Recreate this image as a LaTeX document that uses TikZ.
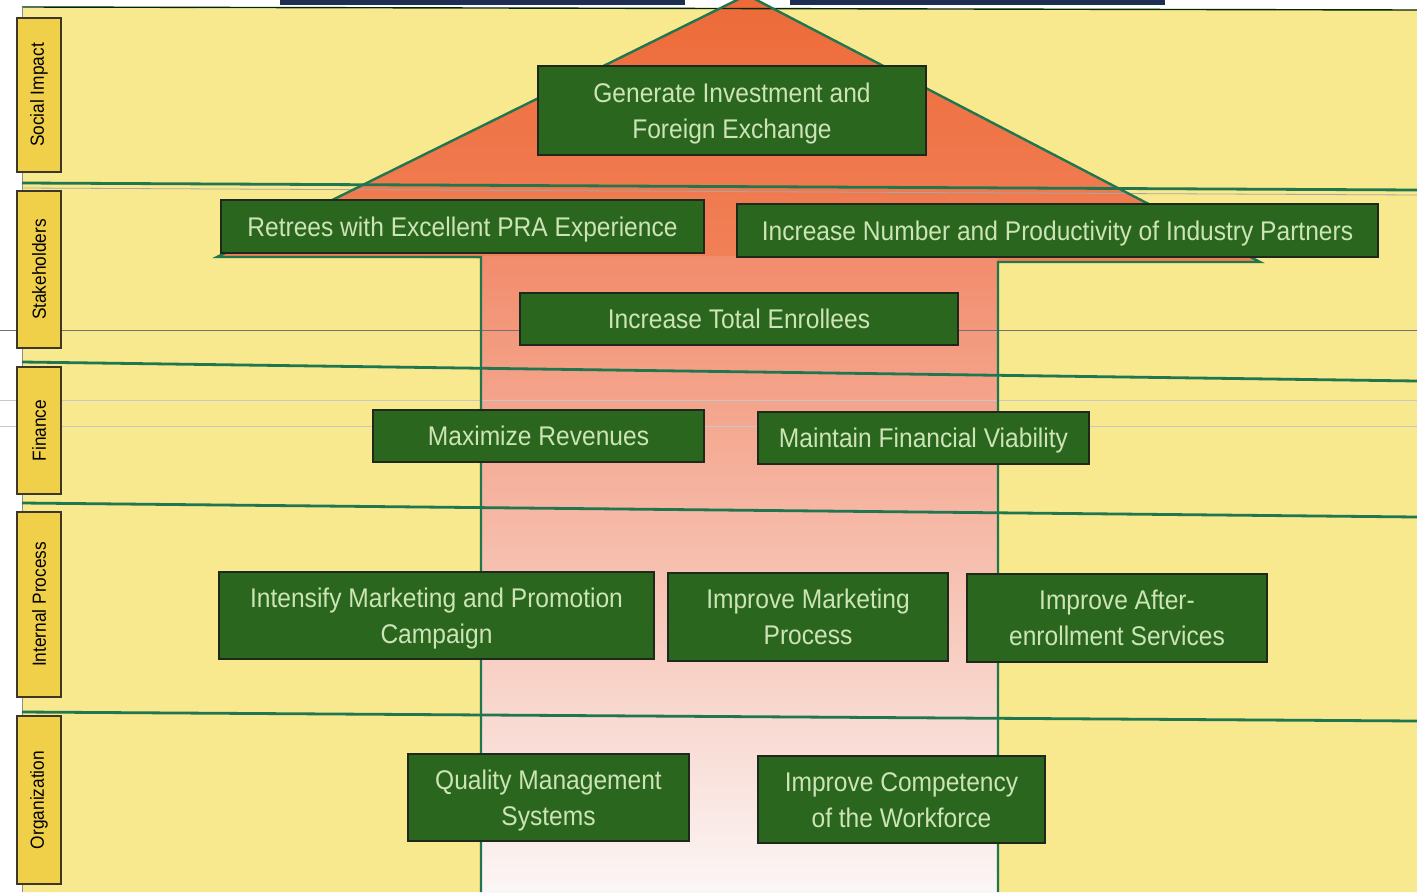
\documentclass[tikz,border=0pt]{standalone}
\usepackage{fontspec}
\setmainfont{Liberation Sans}
\newfontfamily\narrowsans{Liberation Sans}[FakeStretch=0.91]
\definecolor{yellowbg}{RGB}{248,232,142}
\definecolor{labgold}{RGB}{240,208,72}
\definecolor{labedge}{RGB}{60,55,40}
\definecolor{boxgreen}{RGB}{42,102,30}
\definecolor{boxedge}{RGB}{30,40,28}
\definecolor{boxtext}{RGB}{204,228,182}
\definecolor{linegreen}{RGB}{32,118,78}
\definecolor{headtop}{RGB}{237,106,56}
\definecolor{headbot}{RGB}{241,128,88}
\definecolor{shafttop}{RGB}{242,140,108}
\definecolor{shaftmid}{RGB}{246,220,210}
\definecolor{shaftbot}{RGB}{251,246,246}
\definecolor{navy}{RGB}{30,45,82}
% one line of box text, sized to its cap height so every line sits alike
\newcommand\capline[1]{\raisebox{0pt}[0.716em][0pt]{#1}}
\begin{document}
\begin{tikzpicture}[x=1pt,y=-1pt,
  obj/.style={draw=boxedge, line width=2.2pt, fill=boxgreen, text=boxtext,
    font=\narrowsans\fontsize{27}{36}\selectfont, align=center, inner sep=0pt},
  lab/.style={draw=labedge, line width=2pt, fill=labgold, rotate=90,
    font=\narrowsans\fontsize{19}{22}\selectfont, inner sep=0pt, minimum height=44},
  band/.style={draw=linegreen, line width=2.8pt},
  faint/.style={draw=black!22, line width=0.6pt}]

% canvas and pale yellow field
\fill[white] (0,0) rectangle (1417,892);
\useasboundingbox (0,0) rectangle (1417,892);
\fill[yellowbg] (22,8) -- (1417,10) -- (1417,892) -- (22,892) -- cycle;

% strips along the top edge
\fill[navy] (280,0) rectangle (685,5);
\fill[navy] (790,0) rectangle (1165,5);

% the large upward arrow: head and shaft
\shade[top color=headtop, bottom color=headbot]
  (747,-5) -- (217,257) -- (1260,262) -- cycle;
\shade[top color=shafttop, middle color=shaftmid, bottom color=shaftbot]
  (481,256) rectangle (998,892);

% thin ruling lines across the sheet
\draw[black!55, line width=0.8pt] (0,330) -- (1417,330);
\draw[faint] (0,400) -- (1417,400);
\draw[faint] (0,426) -- (1417,426);
\draw[black!60!green!40!black, line width=1.4pt] (22,7) -- (1417,10);
\draw[black!45, line width=1pt] (22,7) -- (22,892);

% band separators
\draw[band] (22,183) -- (1417,190);
\draw[black!35, line width=0.8pt] (22,188) -- (1417,195);
\draw[band] (22,362) -- (1417,381);
\draw[band] (22,503) -- (1417,517);
\draw[band] (22,712) -- (1417,721);

% arrow outline
\draw[linegreen, line width=2.4pt, line join=miter]
  (481,892) -- (481,257) -- (217,257) -- (747,-5) -- (1260,262) -- (998,262) -- (998,892);

% perspective labels
\node[lab, minimum width=154] (social) at (39,95)    {Social Impact};
\node[lab, minimum width=157] (stake)  at (39,269.5) {Stakeholders};
\node[lab, minimum width=127] (fin)    at (39,430.5) {Finance};
\node[lab, minimum width=185] (proc)   at (39,604.5) {Internal Process};
\node[lab, minimum width=168] (org)    at (39,800)   {Organization};

% objectives
\node[obj, minimum width=388, minimum height=89] (gen) at (732,110.5)
  {\capline{Generate Investment and}\\\capline{Foreign Exchange}};
\node[obj, minimum width=483, minimum height=53] (ret) at (462.5,226.5)
  {\capline{Retrees with Excellent PRA Experience}};
\node[obj, minimum width=641, minimum height=53] (inc) at (1057.5,230.5)
  {\capline{Increase Number and Productivity of Industry Partners}};
\node[obj, minimum width=438, minimum height=52] (tot) at (739,319)
  {\capline{Increase Total Enrollees}};
\node[obj, minimum width=331, minimum height=52] (rev) at (538.5,436)
  {\capline{Maximize Revenues}};
\node[obj, minimum width=331, minimum height=52] (via) at (923.5,438)
  {\capline{Maintain Financial Viability}};
\node[obj, minimum width=435, minimum height=87] (prom) at (436.5,615.5)
  {\capline{Intensify Marketing and Promotion}\\\capline{Campaign}};
\node[obj, minimum width=280, minimum height=88] (mkt) at (808,617)
  {\capline{Improve Marketing}\\\capline{Process}};
\node[obj, minimum width=300, minimum height=88] (aft) at (1117,618)
  {\capline{Improve After-}\\\capline{enrollment Services}};
\node[obj, minimum width=281, minimum height=87] (qms) at (548.5,797.5)
  {\capline{Quality Management}\\\capline{Systems}};
\node[obj, minimum width=287, minimum height=87] (wf) at (901.5,799.5)
  {\capline{Improve Competency}\\\capline{of the Workforce}};
\end{tikzpicture}
\end{document}
